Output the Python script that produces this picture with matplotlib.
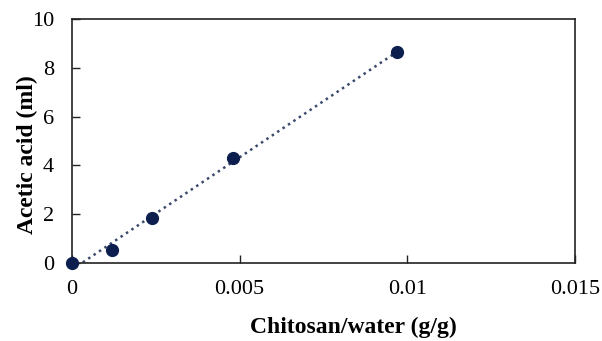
import numpy as np
import matplotlib.pyplot as plt

ratio = [0.0, 0.0012, 0.0024, 0.0048, 0.0097]
acid = [0.0, 0.52, 1.85, 4.3, 8.65]

plt.rcParams['font.family'] = 'Liberation Serif'

fig = plt.figure(figsize=(6.02, 3.41), dpi=100)
ax = fig.add_axes([0.1196, 0.2287, 0.8354, 0.7153])

# linear trendline through the points
slope, icpt = np.polyfit(ratio, acid, 1)
xs = np.array([ratio[0], ratio[-1]])
ax.plot(xs, slope * xs + icpt, linestyle=(0, (1, 1.6)), color='#3b4a6b', linewidth=1.8, zorder=2)
ax.plot(ratio, acid, 'o', color='#0c1e4e', markersize=8.5, zorder=3, clip_on=False)

ax.set_xlim(0, 0.015)
ax.set_ylim(0, 10)
ax.set_xticks([0, 0.005, 0.01, 0.015])
ax.set_xticklabels(['0', '0.005', '0.01', '0.015'])
ax.set_yticks([0, 2, 4, 6, 8, 10])
ax.tick_params(direction='in', length=6, width=1, labelsize=16, pad=12, color='#222222')
ax.tick_params(axis='y', pad=13)
for s in ax.spines.values():
    s.set_linewidth(1.2)
    s.set_color('#222222')

ax.set_xlabel('Chitosan/water (g/g)', fontsize=17, fontweight='bold')
ax.set_ylabel('Acetic acid (ml)', fontsize=17, fontweight='bold')
ax.xaxis.label.set_va('center')
ax.yaxis.label.set_va('center')
ax.xaxis.set_label_coords(0.5586, -0.262)
ax.yaxis.set_label_coords(-0.0895, 0.4426)

fig.savefig('out.png', dpi=100)
